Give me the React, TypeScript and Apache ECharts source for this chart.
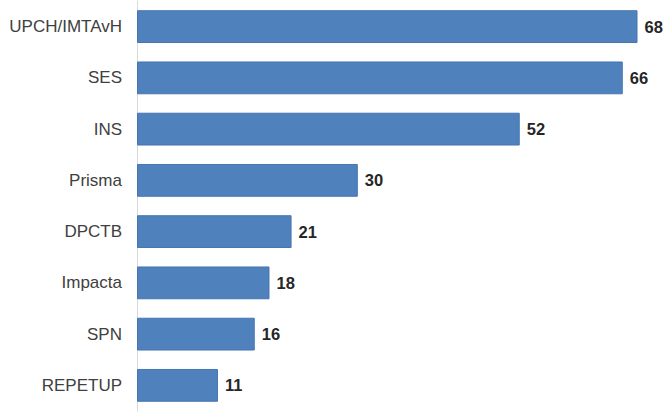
import React, { useEffect, useRef } from "react";
import * as echarts from "echarts";

const categories = ["UPCH/IMTAvH", "SES", "INS", "Prisma", "DPCTB", "Impacta", "SPN", "REPETUP"];
const values = [68, 66, 52, 30, 21, 18, 16, 11];

export default function App() {
  const ref = useRef<HTMLDivElement>(null);
  useEffect(() => {
    if (!ref.current) return;
    const chart = echarts.init(ref.current, null, { renderer: "svg" });
    chart.setOption({
      animation: false,
      backgroundColor: "#ffffff",
      textStyle: { fontFamily: "Liberation Sans, Arial, sans-serif" },
      grid: { left: 137, top: 1, width: 500.5, height: 410, containLabel: false },
      xAxis: {
        type: "value",
        min: 0,
        max: 68,
        show: false,
        splitLine: { show: false },
      },
      yAxis: {
        type: "category",
        inverse: true,
        data: categories,
        axisLine: { show: true, lineStyle: { color: "#d9d9d9", width: 1 } },
        axisTick: { show: false },
        axisLabel: {
          margin: 15,
          fontSize: 17,
          color: "#404040",
          fontFamily: "Liberation Sans, Arial, sans-serif",
        },
      },
      series: [
        {
          type: "bar",
          data: values,
          barCategoryGap: "36%",
          itemStyle: { color: "#4F81BD", borderColor: "#4675B0", borderWidth: 1 },
          label: {
            show: true,
            position: "right",
            distance: 7,
            fontSize: 16.5,
            fontWeight: "bold",
            color: "#262626",
            fontFamily: "Liberation Sans, Arial, sans-serif",
          },
        },
      ],
    });
    return () => chart.dispose();
  }, []);
  return <div ref={ref} style={{ width: 669, height: 417, position: "fixed", left: 0, top: 0 }} />;
}
